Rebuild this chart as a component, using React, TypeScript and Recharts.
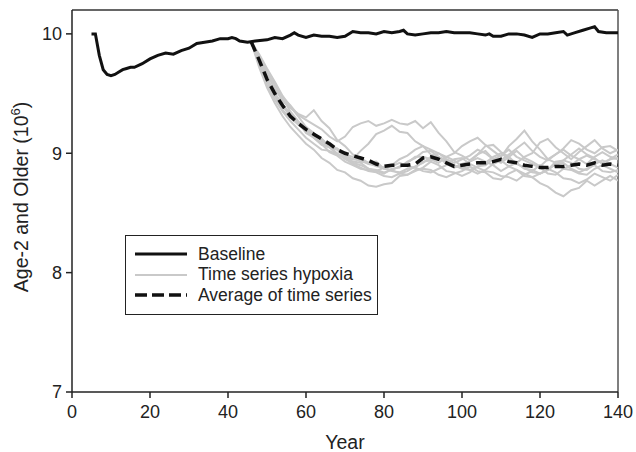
import { LineChart, Line, XAxis, YAxis, ReferenceLine } from 'recharts';

const FONT = '"Liberation Sans", Arial, Helvetica, sans-serif';

const xTicks = [0, 20, 40, 60, 80, 100, 120, 140];
const yTicks = [7, 8, 9, 10];

const baselineYears = [
  5, 6, 7, 8, 9, 10, 11, 12, 13, 14, 15, 16, 18, 20, 22, 24, 26, 28, 30, 32, 34, 36, 38, 40, 41, 42, 43, 45,
  47, 50, 52, 54, 56, 57, 58, 60, 62, 64, 66, 68, 70, 72, 74, 76, 78, 80, 82, 84, 85, 86, 88, 90, 92, 94,
  96, 98, 100, 102, 104, 106, 107, 108, 110, 112, 114, 116, 118, 120, 122, 124, 126, 127, 129, 131, 133,
  134, 135, 137, 140,
];
const baselineValues = [
  10.0, 10.0, 9.82, 9.7, 9.66, 9.65, 9.66, 9.68, 9.7, 9.71, 9.72, 9.72, 9.75, 9.79, 9.82, 9.84, 9.83, 9.86,
  9.88, 9.92, 9.93, 9.94, 9.96, 9.96, 9.97, 9.96, 9.94, 9.93, 9.94, 9.95, 9.97, 9.96, 9.99, 10.01, 9.99,
  9.97, 9.99, 9.98, 9.98, 9.97, 9.98, 10.02, 10.01, 10.01, 10.0, 10.02, 10.01, 10.02, 10.03, 10.0, 9.99,
  10.0, 10.01, 10.01, 10.02, 10.01, 10.01, 10.01, 10.0, 9.99, 10.0, 9.98, 9.98, 10.0, 10.0, 9.99, 9.97,
  10.0, 10.0, 10.01, 10.02, 9.99, 10.01, 10.03, 10.05, 10.06, 10.02, 10.01, 10.01,
];

const hypoxiaYears = [
  46, 48, 50, 52, 54, 56, 58, 60, 62, 64, 66, 68, 70, 72, 74, 76, 78, 80, 82, 84, 86, 88, 90, 92, 94, 96,
  98, 100, 102, 104, 106, 108, 110, 112, 114, 116, 118, 120, 122, 124, 126, 128, 130, 132, 134, 136, 138, 140,
];

const run1 = [9.93, 9.8, 9.68, 9.58, 9.47, 9.4, 9.32, 9.28, 9.24, 9.2, 9.14, 9.1, 9.14, 9.22, 9.25, 9.27, 9.23, 9.25, 9.28, 9.25, 9.24, 9.27, 9.21, 9.26, 9.17, 9.1, 9.01, 8.98, 8.94, 8.99, 9.02, 8.95, 8.92, 8.97, 9.02, 8.96, 8.93, 8.89, 8.95, 8.99, 9.03, 8.98, 8.95, 8.91, 8.97, 9.01, 8.97, 8.95];
const run2 = [9.93, 9.76, 9.6, 9.48, 9.36, 9.3, 9.24, 9.22, 9.15, 9.12, 9.05, 9.03, 8.97, 8.95, 9.02, 9.08, 9.16, 9.19, 9.23, 9.18, 9.17, 9.1, 9.06, 8.99, 8.97, 8.91, 8.88, 8.91, 8.93, 8.99, 9.06, 9.07, 9.01, 8.97, 8.91, 8.88, 8.84, 8.83, 8.86, 8.93, 8.94, 8.92, 8.87, 8.86, 8.91, 8.94, 8.91, 8.88];
const run3 = [9.93, 9.72, 9.55, 9.42, 9.31, 9.22, 9.15, 9.08, 9.03, 8.96, 8.92, 8.86, 8.84, 8.79, 8.77, 8.73, 8.72, 8.74, 8.75, 8.81, 8.82, 8.86, 8.87, 8.86, 8.82, 8.8, 8.83, 8.85, 8.89, 8.85, 8.84, 8.79, 8.78, 8.83, 8.86, 8.83, 8.8, 8.75, 8.72, 8.67, 8.64, 8.69, 8.71, 8.77, 8.73, 8.77, 8.81, 8.77];
const run4 = [9.93, 9.8, 9.66, 9.54, 9.44, 9.38, 9.33, 9.3, 9.36, 9.27, 9.21, 9.11, 9.06, 8.99, 8.96, 8.92, 8.93, 8.87, 8.86, 8.89, 8.92, 8.97, 8.97, 8.95, 8.92, 8.97, 9.0, 9.06, 9.1, 9.13, 9.07, 9.02, 8.97, 9.06, 9.12, 9.19, 9.1, 9.03, 8.95, 8.92, 8.87, 8.86, 8.83, 8.82, 8.87, 8.9, 8.87, 8.84];
const run5 = [9.93, 9.77, 9.63, 9.5, 9.41, 9.31, 9.26, 9.17, 9.13, 9.07, 9.05, 8.99, 8.97, 8.93, 8.92, 8.87, 8.85, 8.83, 8.87, 8.88, 8.93, 8.96, 9.01, 9.02, 8.97, 8.94, 8.89, 8.88, 8.93, 8.96, 8.93, 8.9, 8.85, 8.89, 8.92, 8.97, 9.0, 9.09, 9.12, 9.05, 9.0, 8.95, 9.01, 9.06, 9.11, 9.04, 9.0, 9.03];
const run6 = [9.93, 9.83, 9.71, 9.6, 9.48, 9.39, 9.31, 9.22, 9.17, 9.1, 9.06, 8.99, 8.96, 8.91, 8.88, 8.85, 8.84, 8.81, 8.8, 8.83, 8.85, 8.89, 8.92, 8.97, 9.0, 8.97, 8.94, 8.89, 8.86, 8.83, 8.86, 8.91, 8.94, 8.89, 8.86, 8.81, 8.8, 8.83, 8.86, 8.91, 8.94, 8.99, 9.04, 8.99, 8.96, 8.91, 8.95, 8.99];
const run7 = [9.93, 9.78, 9.62, 9.5, 9.39, 9.32, 9.25, 9.2, 9.13, 9.08, 9.01, 8.98, 8.93, 8.9, 8.87, 8.86, 8.85, 8.88, 8.89, 8.92, 8.89, 8.88, 8.85, 8.84, 8.87, 8.9, 8.95, 8.96, 8.91, 8.88, 8.85, 8.84, 8.81, 8.8, 8.77, 8.82, 8.85, 8.9, 8.87, 8.84, 8.79, 8.78, 8.75, 8.78, 8.83, 8.8, 8.77, 8.82];
const run8 = [9.93, 9.74, 9.57, 9.45, 9.35, 9.27, 9.2, 9.13, 9.08, 9.03, 9.02, 8.99, 8.98, 8.95, 8.94, 8.91, 8.9, 8.87, 8.9, 8.95, 8.98, 9.03, 9.06, 9.03, 9.0, 8.95, 8.92, 8.95, 8.98, 9.03, 9.0, 8.95, 8.94, 8.99, 9.04, 9.09, 9.02, 8.97, 8.94, 8.99, 9.04, 9.11, 9.08, 9.03, 9.0, 9.05, 9.06, 9.02];
const run9 = [9.93, 9.81, 9.68, 9.57, 9.46, 9.35, 9.27, 9.19, 9.14, 9.08, 9.05, 9.0, 8.95, 8.92, 8.9, 8.87, 8.86, 8.84, 8.86, 8.83, 8.82, 8.85, 8.88, 8.93, 8.9, 8.85, 8.84, 8.81, 8.84, 8.89, 8.92, 8.97, 9.0, 8.95, 8.92, 8.87, 8.86, 8.83, 8.86, 8.91, 8.92, 8.87, 8.84, 8.87, 8.9, 8.85, 8.84, 8.86];
const run10 = [9.93, 9.76, 9.6, 9.5, 9.4, 9.34, 9.26, 9.22, 9.15, 9.12, 9.06, 9.04, 8.99, 8.97, 8.93, 8.92, 8.89, 8.88, 8.85, 8.84, 8.87, 8.88, 8.93, 8.94, 8.97, 8.93, 8.9, 8.87, 8.86, 8.89, 8.9, 8.95, 8.98, 9.03, 8.97, 8.94, 8.91, 8.88, 8.83, 8.82, 8.87, 8.9, 8.95, 8.98, 8.95, 8.92, 8.95, 8.96];

const averageValues = [
  9.93, 9.78, 9.62, 9.5, 9.4, 9.31, 9.25, 9.2, 9.16, 9.12, 9.08, 9.03, 9.0, 8.98, 8.96, 8.94, 8.91, 8.89,
  8.9, 8.9, 8.9, 8.91, 8.96, 8.97, 8.95, 8.92, 8.89, 8.9, 8.91, 8.92, 8.92, 8.93, 8.95, 8.93, 8.92, 8.9,
  8.89, 8.88, 8.88, 8.89, 8.89, 8.9, 8.91, 8.9, 8.92, 8.9, 8.91, 8.9,
];

const hypoxiaRuns = [run1, run2, run3, run4, run5, run6, run7, run8, run9, run10];

const baselineData = baselineYears.map((year, i) => ({ year, v: baselineValues[i] }));
const averageData = hypoxiaYears.map((year, i) => ({ year, v: averageValues[i] }));
const runData = hypoxiaRuns.map((run) => hypoxiaYears.map((year, i) => ({ year, v: run[i] })));

const AXIS = '#222';
const GREY = '#c9c9c9';

// legend drawn as a plain box over the plot so it doesn't eat chart space
function LegendBox() {
  const rows = [
    { label: 'Baseline', stroke: '#111', width: 3, dash: undefined },
    { label: 'Time series hypoxia', stroke: GREY, width: 2, dash: undefined },
    { label: 'Average of time series', stroke: '#111', width: 3.5, dash: '12 5' },
  ];
  return (
    <div
      style={{
        position: 'absolute',
        left: 125,
        top: 235,
        width: 251,
        height: 70,
        border: '1.5px solid #222',
        background: '#fff',
        fontFamily: FONT,
        fontSize: 17.5,
        color: '#222',
        paddingTop: 8,
        boxSizing: 'content-box',
      }}
    >
      {rows.map((r) => (
        <div key={r.label} style={{ display: 'flex', alignItems: 'center', height: 20.5 }}>
          <svg width={72} height={10} style={{ flex: 'none' }}>
            <line x1={9} x2={61} y1={5} y2={5} stroke={r.stroke} strokeWidth={r.width} strokeDasharray={r.dash} />
          </svg>
          <span>{r.label}</span>
        </div>
      ))}
    </div>
  );
}

export default function App() {
  // full-window canvas: drop the body margin so nothing scrolls or clips "140"
  return (
    <div style={{ position: 'relative', width: 636, height: 452, fontFamily: FONT, overflow: 'hidden' }}>
      <style>{'html,body{margin:0;padding:0;overflow:hidden}'}</style>
      <LineChart width={636} height={452} margin={{ top: 10, right: 18, bottom: 0, left: 8 }}>
        <XAxis
          dataKey="year"
          type="number"
          domain={[0, 140]}
          ticks={xTicks}
          allowDataOverflow
          height={60}
          tickSize={6}
          tickMargin={7}
          stroke={AXIS}
          strokeWidth={1.5}
          tick={{ fill: AXIS, fontSize: 18, fontFamily: FONT }}
          label={{
            content: ({ viewBox }: any) => (
              <text
                x={viewBox.x + viewBox.width / 2}
                y={viewBox.y + 57}
                textAnchor="middle"
                fill={AXIS}
                fontSize={19.5}
                fontFamily={FONT}
              >
                Year
              </text>
            ),
          }}
        />
        <YAxis
          type="number"
          domain={[7, 10.2]}
          ticks={yTicks}
          allowDataOverflow
          width={64}
          tickSize={6}
          tickMargin={4}
          stroke={AXIS}
          strokeWidth={1.5}
          tick={{ fill: AXIS, fontSize: 18, fontFamily: FONT }}
          label={{
            content: ({ viewBox }: any) => {
              const cx = 28;
              const cy = viewBox.y + viewBox.height / 2 - 4;
              return (
                <text
                  x={cx}
                  y={cy}
                  transform={`rotate(-90 ${cx} ${cy})`}
                  textAnchor="middle"
                  fill={AXIS}
                  fontSize={19.5}
                  fontFamily={FONT}
                >
                  Age-2 and Older (10
                  <tspan dy={-8} fontSize={13}>
                    6
                  </tspan>
                  <tspan dy={8}>)</tspan>
                </text>
              );
            },
          }}
        />
        <ReferenceLine y={10.2} stroke="#333" strokeWidth={1.5} />
        <ReferenceLine x={140} stroke="#555" strokeWidth={1.5} />
        {runData.map((d, i) => (
          <Line
            key={`run${i}`}
            data={d}
            dataKey="v"
            type="linear"
            stroke={GREY}
            strokeWidth={2}
            dot={false}
            isAnimationActive={false}
          />
        ))}
        <Line
          data={averageData}
          dataKey="v"
          type="linear"
          stroke="#111"
          strokeWidth={3.5}
          strokeDasharray="10 6"
          dot={false}
          isAnimationActive={false}
        />
        <Line
          data={baselineData}
          dataKey="v"
          type="linear"
          stroke="#111"
          strokeWidth={3}
          dot={false}
          isAnimationActive={false}
        />
      </LineChart>
      <LegendBox />
    </div>
  );
}
